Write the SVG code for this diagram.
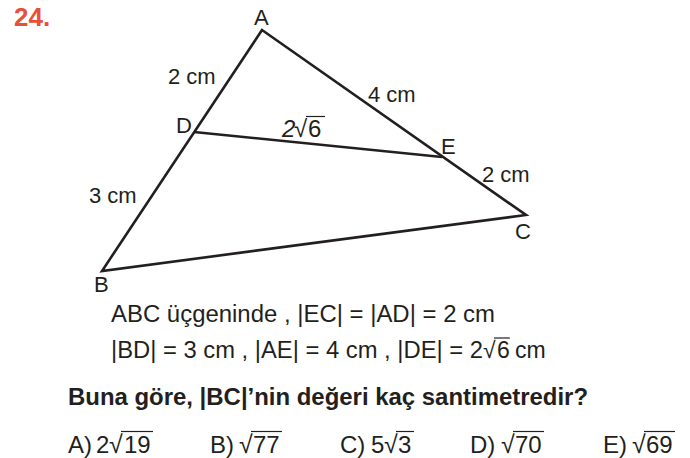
<svg xmlns="http://www.w3.org/2000/svg" width="690" height="458" viewBox="0 0 690 458">
<style>
.t{font-family:"Liberation Sans",Arial,sans-serif;font-size:22px;fill:#231f20}
.m{font-size:23px}
.a{font-size:24px}
.r{font-size:25px}
.b{font-weight:bold}
.ln{stroke:#231f20;stroke-width:2.6;fill:none;stroke-linejoin:miter}
.ov{stroke:#231f20;stroke-width:1.2}
</style>
<rect width="690" height="458" fill="#fff"/>
<text x="14" y="26" class="t b" style="font-size:26px;fill:#e8503a">24.</text>
<g id="figure">
<polygon class="ln" points="262,30 102,271 526,215"/>
<line id="DE" class="ln" x1="194" y1="132" x2="442" y2="157"/>
</g>
<g id="labels">
<text x="254" y="25" class="t">A</text>
<text x="176" y="133" class="t">D</text>
<text x="441" y="154" class="t">E</text>
<text x="515" y="239" class="t">C</text>
<text x="94" y="292" class="t">B</text>
<text x="168" y="84" class="t">2 cm</text>
<text x="368" y="102" class="t">4 cm</text>
<text x="482" y="182" class="t">2 cm</text>
<text x="89" y="203" class="t">3 cm</text>
<g id="de-label">
<text x="282" y="137" class="t a" font-style="italic">2</text>
<text x="294" y="137" class="t a">√</text>
<text x="308" y="137" class="t a">6</text>
<line class="ov" x1="306" y1="116.5" x2="325" y2="116.5"/>
</g>
</g>
<g id="given">
<text x="111" y="322" class="t m" textLength="384" lengthAdjust="spacingAndGlyphs">ABC üçgeninde , |EC| = |AD| = 2 cm</text>
<text x="111" y="358" class="t m" textLength="372" lengthAdjust="spacingAndGlyphs">|BD| = 3 cm , |AE| = 4 cm , |DE| = 2</text>
<text x="483" y="358" class="t m">√</text>
<text x="497" y="358" class="t m">6</text>
<line class="ov" x1="494" y1="338" x2="510" y2="338"/>
<text x="515" y="358" class="t m">cm</text>
</g>
<text x="68" y="405" class="t a b" textLength="520" lengthAdjust="spacingAndGlyphs">Buna göre, |BC|’nin değeri kaç santimetredir?</text>
<g id="answers">
<text x="68" y="453" class="t a">A)</text>
<text x="96" y="453" class="t a">2</text>
<text x="109" y="453" class="t r">√</text>
<text x="124" y="453" class="t a">19</text>
<line class="ov" x1="121" y1="431.5" x2="153" y2="431.5"/>
<text x="210" y="453" class="t a">B)</text>
<text x="239" y="453" class="t r">√</text>
<text x="253" y="453" class="t a">77</text>
<line class="ov" x1="251" y1="431.5" x2="282" y2="431.5"/>
<text x="340" y="453" class="t a">C)</text>
<text x="371" y="453" class="t a">5</text>
<text x="384" y="453" class="t r">√</text>
<text x="398" y="453" class="t a">3</text>
<line class="ov" x1="396" y1="431.5" x2="414" y2="431.5"/>
<text x="470" y="453" class="t a">D)</text>
<text x="501" y="453" class="t r">√</text>
<text x="515" y="453" class="t a">70</text>
<line class="ov" x1="513" y1="431.5" x2="544" y2="431.5"/>
<text x="603" y="453" class="t a">E)</text>
<text x="632" y="453" class="t r">√</text>
<text x="646" y="453" class="t a">69</text>
<line class="ov" x1="644" y1="431.5" x2="675" y2="431.5"/>
</g>
</svg>
